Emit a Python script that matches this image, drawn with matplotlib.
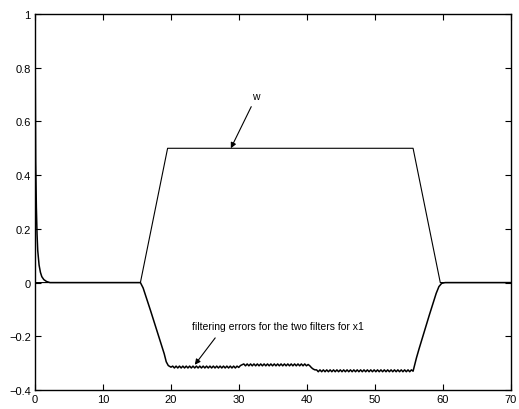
import matplotlib
matplotlib.use("Agg")
import matplotlib.pyplot as plt
import numpy as np

plt.rcParams['font.family'] = ['Liberation Sans', 'DejaVu Sans']

# w: reference ramp
w_x = [0, 15.5, 19.5, 55.6, 59.6, 70]
w_y = [0, 0, 0.5, 0.5, 0, 0]

# filtering error, initial transient + ramp down
err_head_x = [0, 0.1, 0.2, 0.3, 0.4, 0.6, 0.8, 1.0, 1.3, 1.7, 2.2, 15.5,
              15.9, 17.0, 18.5, 19.0, 19.3, 19.6, 20.0]
err_head_y = [1.0, 0.45, 0.28, 0.18, 0.12, 0.065, 0.038, 0.022, 0.011, 0.004, 0.0, 0.0,
              -0.02, -0.105, -0.225, -0.265, -0.295, -0.309, -0.315]

# ripple on the plateaus
seg1_y = [-0.311, -0.318, -0.311, -0.318, -0.311, -0.318, -0.311, -0.318, -0.311, -0.318,
          -0.311, -0.318, -0.311, -0.318, -0.311, -0.318, -0.311, -0.318, -0.311, -0.318,
          -0.311, -0.318, -0.311, -0.318, -0.311, -0.318, -0.311, -0.318, -0.311, -0.318,
          -0.311, -0.318, -0.311, -0.318, -0.311, -0.318, -0.311, -0.318, -0.311, -0.316]
trans1_y = [-0.309, -0.306]
seg2_y = [-0.303, -0.310, -0.303, -0.310, -0.303, -0.310, -0.303, -0.310, -0.303, -0.310,
          -0.303, -0.310, -0.303, -0.310, -0.303, -0.310, -0.303, -0.310, -0.303, -0.310,
          -0.303, -0.310, -0.303, -0.310, -0.303, -0.310, -0.303, -0.310, -0.303, -0.310,
          -0.303, -0.310, -0.303, -0.310, -0.303, -0.310, -0.303, -0.310, -0.305]
trans2_y = [-0.310, -0.317, -0.322, -0.325]
seg3_y = [-0.325, -0.332, -0.325, -0.332, -0.325, -0.332, -0.325, -0.332, -0.325, -0.332,
          -0.325, -0.332, -0.325, -0.332, -0.325, -0.332, -0.325, -0.332, -0.325, -0.332,
          -0.325, -0.332, -0.325, -0.332, -0.325, -0.332, -0.325, -0.332, -0.325, -0.332,
          -0.325, -0.332, -0.325, -0.332, -0.325, -0.332, -0.325, -0.332, -0.325, -0.332,
          -0.325, -0.332, -0.325, -0.332, -0.325, -0.332, -0.325, -0.332, -0.325, -0.332,
          -0.325, -0.332, -0.325, -0.332, -0.325, -0.332, -0.325, -0.330]

# ramp back up
err_tail_x = [55.8, 56.1, 56.5, 58.0, 59.0, 59.4, 59.8, 60.3, 70]
err_tail_y = [-0.31, -0.28, -0.245, -0.12, -0.04, -0.015, -0.003, 0.0, 0.0]

err_mid_y = seg1_y + trans1_y + seg2_y + trans2_y + seg3_y
err_mid_x = list(np.linspace(20.25, 55.6, len(err_mid_y)))
err_x = err_head_x + err_mid_x + err_tail_x
err_y = err_head_y + err_mid_y + err_tail_y

fig = plt.figure(figsize=(5.19, 4.10), dpi=100)
ax = fig.add_axes([35 / 519, 19 / 410, 476 / 519, 376 / 410])

ax.plot(w_x, w_y, color='black', lw=0.8)
ax.plot(err_x, err_y, color='black', lw=1.1)

ax.set_xlim(0, 70)
ax.set_ylim(-0.4, 1)
ax.set_xticks(range(0, 71, 10))
ax.set_yticks([-0.4, -0.2, 0, 0.2, 0.4, 0.6, 0.8, 1])
ax.set_yticklabels(['\u22120.4', '\u22120.2', '0', '0.2', '0.4', '0.6', '0.8', '1'])
ax.tick_params(direction='in', top=True, right=True, length=4, width=0.8, labelsize=8, pad=3)
for s in ax.spines.values():
    s.set_linewidth(1.0)

arrow = dict(arrowstyle='-|>', color='black', lw=0.8, shrinkA=0, shrinkB=0, mutation_scale=8)
ax.text(32.5, 0.695, 'w', fontsize=7.5, ha='center', va='center')
ax.annotate('', xy=(28.8, 0.5), xytext=(31.8, 0.655), arrowprops=arrow)
ax.text(35.7, -0.16, 'filtering errors for the two filters for x1', fontsize=7.5,
        ha='center', va='center')
ax.annotate('', xy=(23.5, -0.306), xytext=(26.5, -0.206), arrowprops=arrow)

fig.savefig('out.png', dpi=100)
